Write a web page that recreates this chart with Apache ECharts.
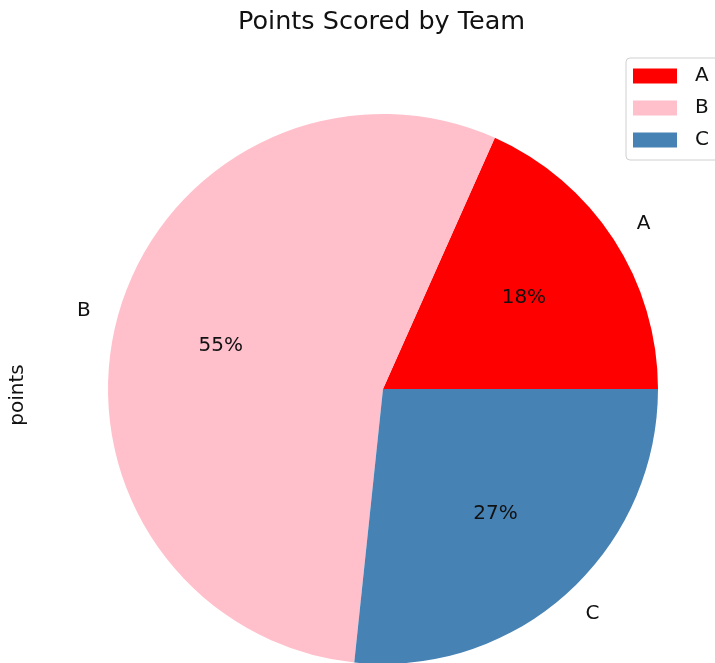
<!DOCTYPE html>
<html>
<head>
    <meta charset="utf-8">
    <title>Points Scored by Team</title>
    <script src="https://cdn.jsdelivr.net/npm/echarts@6/dist/echarts.min.js"></script>
    <style>
        html, body { margin: 0; padding: 0; background: #fff; }
    </style>
</head>
<body>
    <div id="main" style="width: 715px;height:663px;"></div>
    <script type="text/javascript">
        var teams = ['A', 'B', 'C'];
        var points = [11, 33, 16];
        var colors = ['#ff0000', '#ffc0cb', '#4682b4'];

        var myChart = echarts.init(document.getElementById('main'));

        var font = 'DejaVu Sans';
        var center = [383, 389];
        var radius = 275;

        var pieData = teams.map(function (t, i) {
            return { name: t, value: points[i], itemStyle: { color: colors[i] } };
        });
        var total = points.reduce(function (a, b) { return a + b; }, 0);

        var option = {
            animation: false,
            title: {
                text: 'Points Scored by Team',
                left: 238,
                top: 9,
                padding: 0,
                textStyle: { fontFamily: font, fontSize: 25.5, fontWeight: 'normal', color: '#111' }
            },
            legend: {
                orient: 'vertical',
                left: 626,
                top: 58,
                padding: [8, 20, 10, 7],
                itemWidth: 44,
                itemHeight: 15,
                itemGap: 12,
                icon: 'rect',
                selectedMode: false,
                borderColor: '#d0d0d0',
                borderWidth: 1,
                borderRadius: 4,
                backgroundColor: 'rgba(255,255,255,0.8)',
                data: teams,
                textStyle: { fontFamily: font, fontSize: 20, lineHeight: 19, color: '#111', padding: [0, 0, 0, 13] }
            },
            graphic: [{
                type: 'text',
                x: 18,
                y: 395,
                rotation: Math.PI / 2,
                style: {
                    text: 'points',
                    font: '20px "DejaVu Sans"',
                    fill: '#111',
                    textAlign: 'center',
                    textVerticalAlign: 'middle'
                }
            }],
            series: [{
                // wedges with the team names outside
                type: 'pie',
                center: center,
                radius: radius,
                startAngle: 0,
                clockwise: false,
                avoidLabelOverlap: false,
                silent: true,
                itemStyle: { borderWidth: 0 },
                label: {
                    show: true,
                    position: 'outside',
                    formatter: '{b}',
                    distanceToLabelLine: 0,
                    fontFamily: font,
                    fontSize: 20,
                    color: '#111'
                },
                labelLine: { show: false, length: radius * 0.1, length2: 0 },
                data: pieData
            }, {
                // invisible ring used only to place the percentages at 0.6 r
                type: 'pie',
                center: center,
                radius: radius * 1.2,
                startAngle: 0,
                clockwise: false,
                silent: true,
                itemStyle: { color: 'rgba(0,0,0,0)', borderWidth: 0 },
                label: {
                    show: true,
                    position: 'inside',
                    formatter: function (p) { return Math.round(p.value / total * 100) + '%'; },
                    fontFamily: font,
                    fontSize: 20,
                    color: '#111'
                },
                labelLine: { show: false },
                data: teams.map(function (t, i) { return { name: t, value: points[i] }; })
            }]
        };

        myChart.setOption(option);
    </script>
</body>
</html>
